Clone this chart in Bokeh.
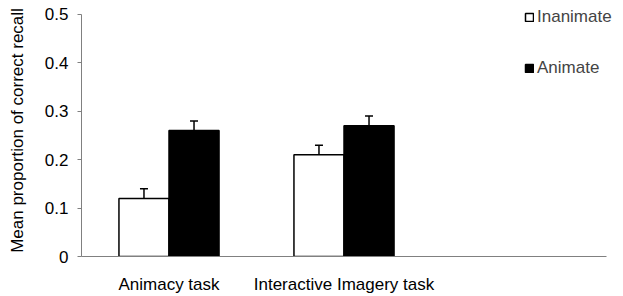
from bokeh.plotting import figure
from bokeh.models import (ColumnDataSource, Range1d, Whisker, TeeHead,
                          Legend, LegendItem, FixedTicker)
from bokeh.embed import file_html
from bokeh.resources import INLINE

# ---- data ----
tasks = ["Animacy task", "Interactive Imagery task"]
n_slots = 3  # the chart leaves room for a third, empty category
inanimate = [0.12, 0.21]
animate = [0.26, 0.27]
inanimate_err = [0.02, 0.02]
animate_err = [0.02, 0.02]
y_ticks = [0, 0.1, 0.2, 0.3, 0.4, 0.5]
y_tick_labels = ["0", "0.1", "0.2", "0.3", "0.4", "0.5"]
series_names = ["Inanimate", "Animate"]

FONT = "Liberation Sans"

bw = 0.286
off = bw / 2
centers = [i + 0.5 for i in range(len(tasks))]
src = ColumnDataSource(dict(
    x_inan=[c - off for c in centers],
    x_anim=[c + off for c in centers],
    inan=inanimate,
    anim=animate,
    inan_hi=[v + e for v, e in zip(inanimate, inanimate_err)],
    anim_hi=[v + e for v, e in zip(animate, animate_err)],
))

# frame: left at 81px, right edge of canvas (axis line drawn to 3 slots = 525px)
px_per_slot = 175.0
frame_w = 623 - 81
y_top_px, y0_px = 4, 258          # frame top / zero line
px_per_unit = (258 - 14) / 0.5
y_end = 0.5 + (14 - y_top_px) / px_per_unit

p = figure(width=623, height=296,
           x_range=Range1d(0, frame_w / px_per_slot),
           y_range=Range1d(0, y_end), output_backend="svg", toolbar_location=None,
           min_border_left=81, min_border_right=0, min_border_top=y_top_px,
           min_border_bottom=296 - y0_px)
p.outline_line_color = None
p.grid.visible = False
p.background_fill_color = "white"
p.border_fill_color = "white"

r_inan = p.vbar(x="x_inan", top="inan", width=bw, source=src,
                fill_color="white", line_color="black", line_width=1.5)
r_anim = p.vbar(x="x_anim", top="anim", width=bw, source=src,
                fill_color="black", line_color="black", line_width=1.5)

for xcol, col_lo, col_hi in (("x_inan", "inan", "inan_hi"), ("x_anim", "anim", "anim_hi")):
    w = Whisker(base=xcol, lower=col_lo, upper=col_hi,
                source=src, dimension="height", line_color="black", line_width=1.5,
                lower_head=None,
                upper_head=TeeHead(size=8, line_color="black", line_width=1.5))
    p.add_layout(w)

# axes
p.yaxis.bounds = (0, 0.5)
p.yaxis.ticker = FixedTicker(ticks=y_ticks)
p.yaxis.major_label_overrides = {t: l for t, l in zip(y_ticks, y_tick_labels)}
p.yaxis.minor_tick_line_color = None
p.yaxis.major_tick_in = 0
p.yaxis.major_tick_out = 4
p.yaxis.axis_line_color = "#808080"
p.yaxis.major_tick_line_color = "#808080"
p.yaxis.major_label_text_font = FONT
p.yaxis.major_label_text_font_size = "17px"
p.yaxis.major_label_text_color = "black"
p.yaxis.major_label_standoff = 9
p.yaxis.axis_label = "Mean proportion of correct recall"
p.yaxis.axis_label_text_font = FONT
p.yaxis.axis_label_text_font_size = "17px"
p.yaxis.axis_label_text_font_style = "normal"
p.yaxis.axis_label_text_color = "black"
p.yaxis.axis_label_standoff = 15

p.xaxis.bounds = (0, n_slots)
p.xaxis.ticker = FixedTicker(ticks=centers)
p.xaxis.major_label_overrides = {c: t for c, t in zip(centers, tasks)}
p.xaxis.axis_line_color = "#808080"
p.xaxis.major_tick_line_color = None
p.xaxis.minor_tick_line_color = None
p.xaxis.major_tick_in = 0
p.xaxis.major_tick_out = 0
p.xaxis.major_label_text_font = FONT
p.xaxis.major_label_text_font_size = "17px"
p.xaxis.major_label_text_color = "black"
p.xaxis.major_label_standoff = 18

legend = Legend(items=[LegendItem(label=series_names[0], renderers=[r_inan]),
                       LegendItem(label=series_names[1], renderers=[r_anim])],
                location=(443, 178), orientation="vertical",
                glyph_width=10, glyph_height=10, label_standoff=3,
                label_height=20, spacing=31, padding=0, margin=0,
                label_text_font=FONT, label_text_font_size="17px",
                background_fill_alpha=0, border_line_color=None)
p.add_layout(legend, "center")

open("out.html", "w").write(file_html(p, INLINE))
